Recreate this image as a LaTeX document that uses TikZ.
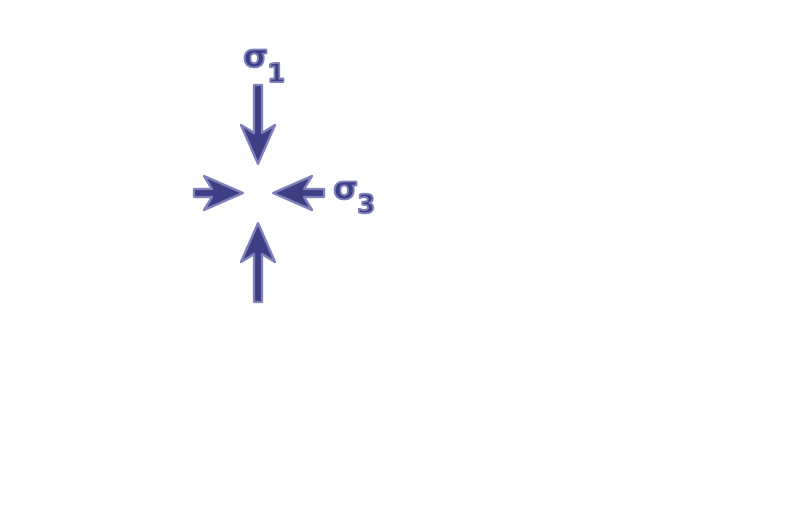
\documentclass[tikz,border=0pt]{standalone}
\usepackage{fontspec}
\setmainfont{DejaVu Sans}
\definecolor{arrfill}{RGB}{60,63,132}
\definecolor{arrline}{RGB}{126,128,186}
\newcommand{\outlined}[1]{\special{pdf:code q 2 Tr 1.8 w 1 j 0.494 0.502 0.729 RG}#1\special{pdf:code Q}}
\tikzset{
  fatarrow/.style={fill=arrfill, draw=arrline, line width=2.3pt, line join=round},
  siglabel/.style={inner sep=0pt, anchor=base west, text=arrfill, font=\bfseries\fontsize{32}{32}\selectfont},
  sublabel/.style={inner sep=0pt, anchor=base west, text=arrfill, font=\bfseries\fontsize{26}{26}\selectfont}
}
\newcommand{\stressarrow}[3]{%
  \begin{scope}[shift={#1}, rotate=#2]
    \path[fatarrow] (-#3,4) -- (-32,4) -- (-40,17) -- (-1.2,0) -- (-40,-17) -- (-32,-4) -- (-#3,-4) -- cycle;
  \end{scope}}
\begin{document}
\begin{tikzpicture}[x=1pt,y=-1pt]
\useasboundingbox (0,0) rectangle (800,527);
\coordinate (toptip) at (258,165);
\coordinate (lefttip) at (244,193);
\coordinate (righttip) at (272,193);
\coordinate (bottip) at (258,222);
\stressarrow{(toptip)}{-90}{80}
\stressarrow{(lefttip)}{0}{50}
\stressarrow{(righttip)}{180}{52}
\stressarrow{(bottip)}{90}{80}
\node[siglabel] (s1) at (243,67) {\outlined{σ}};
\node[sublabel] (s1sub) at (267,82) {\outlined{1}};
\node[siglabel] (s3) at (333,199) {\outlined{σ}};
\node[sublabel] (s3sub) at (357,213) {\outlined{3}};
\end{tikzpicture}
\end{document}
